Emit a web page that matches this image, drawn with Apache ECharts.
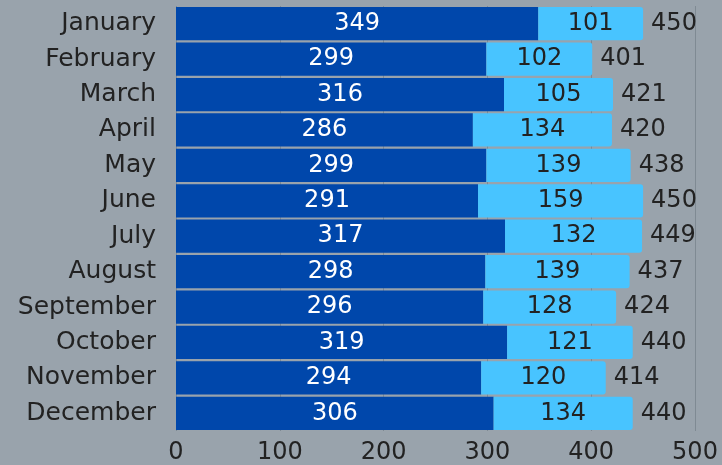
<!DOCTYPE html>
<html>
<head>
<meta charset="utf-8">
<script src="https://cdn.jsdelivr.net/npm/echarts@6/dist/echarts.min.js"></script>
<style>
  html, body { margin: 0; padding: 0; background: #99a3ac; }
  #chart { width: 722px; height: 465px; }
</style>
</head>
<body>
<div id="chart"></div>
<script>
// 月份
const months = ['January', 'February', 'March', 'April', 'May', 'June',
  'July', 'August', 'September', 'October', 'November', 'December'];
// 深蓝部分
const darkValues = [349, 299, 316, 286, 299, 291, 317, 298, 296, 319, 294, 306];
// 浅蓝部分
const lightValues = [101, 102, 105, 134, 139, 159, 132, 139, 128, 121, 120, 134];
// 合计
const totals = darkValues.map((v, i) => v + lightValues[i]);
const xTicks = [0, 100, 200, 300, 400, 500];

const myChart = echarts.init(document.getElementById('chart'));
const font = 'DejaVu Sans, sans-serif';
const option = {
  backgroundColor: '#99a3ac',
  animation: false,
  grid: { left: 176, right: 27, top: 6, bottom: 34, containLabel: false },
  xAxis: {
    type: 'value',
    min: 0,
    max: 500,
    interval: 100,
    axisLine: { show: false },
    axisTick: { show: false },
    splitLine: { lineStyle: { color: '#7f8a93', width: 1 } },
    axisLabel: {
      color: '#222', fontSize: 24, fontFamily: font, margin: 10,
      formatter: v => (xTicks.indexOf(v) >= 0 ? String(v) : '')
    }
  },
  yAxis: {
    type: 'category',
    data: months,
    inverse: true,
    axisLine: { show: false },
    axisTick: { show: false },
    axisLabel: { color: '#222', fontSize: 25, fontFamily: font, margin: 20 }
  },
  series: [
    {
      name: 'dark',
      type: 'bar',
      stack: 'total',
      barCategoryGap: '6%',
      data: darkValues,
      itemStyle: { color: '#0047ab' },
      label: { show: true, position: 'inside', color: '#fff', fontSize: 24, fontFamily: font }
    },
    {
      name: 'light',
      type: 'bar',
      stack: 'total',
      data: lightValues,
      itemStyle: { color: '#48c4ff', borderRadius: [0, 3, 3, 0] },
      label: { show: true, position: 'inside', color: '#222', fontSize: 24, fontFamily: font }
    },
    {
      name: 'total',
      type: 'bar',
      stack: 'total',
      data: totals.map(() => 0),
      itemStyle: { color: 'transparent' },
      label: {
        show: true, position: 'right', distance: 8, color: '#222', fontSize: 24, fontFamily: font,
        formatter: p => totals[p.dataIndex]
      }
    }
  ]
};
myChart.setOption(option);
</script>
</body>
</html>
